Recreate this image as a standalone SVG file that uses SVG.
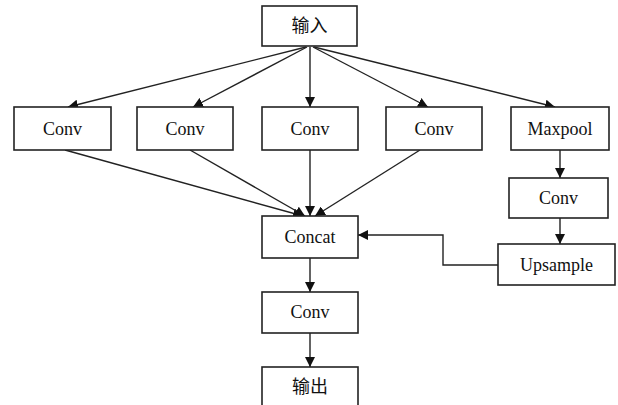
<svg xmlns="http://www.w3.org/2000/svg" width="618" height="405" viewBox="0 0 618 405">
<style>
.box{fill:#fff;stroke:#222;stroke-width:1.6}
.t{font-family:"Liberation Serif","Noto Sans CJK SC",serif;font-size:18px;fill:#111;text-anchor:middle;dominant-baseline:central}
.c{fill:none;stroke:#222;stroke-width:1.4}
</style>
<defs>
<marker id="a" viewBox="0 0 10 10" refX="10" refY="5" markerWidth="10" markerHeight="10" markerUnits="userSpaceOnUse" orient="auto">
<path d="M0,0 L10,5 L0,10 z" fill="#111"/>
</marker>
</defs>
<rect width="618" height="405" fill="#fff"/>
<g id="connectors">
<line class="c" x1="306" y1="47" x2="68" y2="107" marker-end="url(#a)"/>
<line class="c" x1="307" y1="47" x2="193" y2="107" marker-end="url(#a)"/>
<line class="c" x1="310" y1="47" x2="310" y2="107" marker-end="url(#a)"/>
<line class="c" x1="313" y1="47" x2="428" y2="107" marker-end="url(#a)"/>
<line class="c" x1="314" y1="47" x2="555" y2="107" marker-end="url(#a)"/>
<line class="c" x1="65" y1="150" x2="303" y2="216" marker-end="url(#a)"/>
<line class="c" x1="190" y1="150" x2="305" y2="216" marker-end="url(#a)"/>
<line class="c" x1="310" y1="150" x2="310" y2="216" marker-end="url(#a)"/>
<line class="c" x1="420" y1="150" x2="315" y2="216" marker-end="url(#a)"/>
<line class="c" x1="560" y1="150" x2="560" y2="178" marker-end="url(#a)"/>
<line class="c" x1="560" y1="218" x2="560" y2="244" marker-end="url(#a)"/>
<polyline class="c" points="498,265 443,265 443,235 358,235" marker-end="url(#a)"/>
<line class="c" x1="310" y1="258" x2="310" y2="292" marker-end="url(#a)"/>
<line class="c" x1="310" y1="333" x2="310" y2="367" marker-end="url(#a)"/>
</g>
<g id="input"><rect class="box" x="262" y="6" width="95" height="40"/><text class="t" x="309.5" y="26">输入</text></g>
<g id="conv1"><rect class="box" x="14" y="107" width="97" height="43"/><text class="t" x="62.5" y="129">Conv</text></g>
<g id="conv2"><rect class="box" x="137" y="107" width="96" height="43"/><text class="t" x="185" y="129">Conv</text></g>
<g id="conv3"><rect class="box" x="262" y="107" width="96" height="43"/><text class="t" x="310" y="129">Conv</text></g>
<g id="conv4"><rect class="box" x="386" y="107" width="96" height="43"/><text class="t" x="434" y="129">Conv</text></g>
<g id="maxpool"><rect class="box" x="511" y="107" width="98" height="43"/><text class="t" x="560" y="129">Maxpool</text></g>
<g id="conv5"><rect class="box" x="509" y="178" width="99" height="40"/><text class="t" x="558.5" y="198">Conv</text></g>
<g id="upsample"><rect class="box" x="498" y="244" width="117" height="41"/><text class="t" x="556.5" y="265">Upsample</text></g>
<g id="concat"><rect class="box" x="262" y="216" width="96" height="42"/><text class="t" x="310" y="237">Concat</text></g>
<g id="conv6"><rect class="box" x="262" y="292" width="96" height="41"/><text class="t" x="310" y="312">Conv</text></g>
<g id="output"><rect class="box" x="262" y="367" width="96" height="45"/><text class="t" x="310" y="387">输出</text></g>
</svg>
